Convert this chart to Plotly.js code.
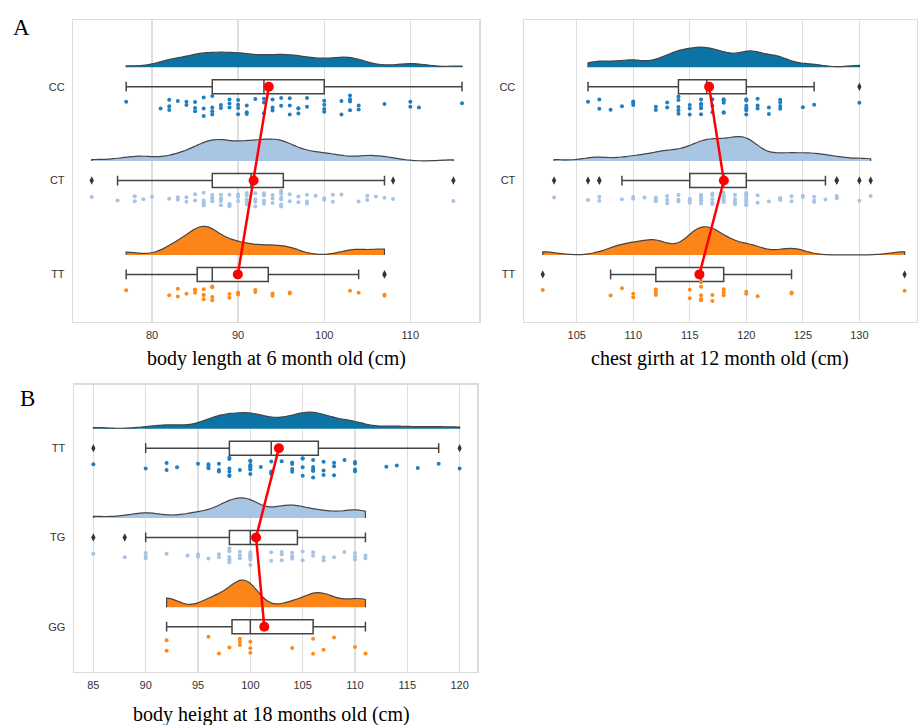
<!DOCTYPE html>
<html><head><meta charset="utf-8">
<script src="https://cdn.plot.ly/plotly-3.0.1.min.js"></script>
<style>html,body{margin:0;padding:0;background:#fff;overflow:hidden}</style>
</head><body><div id="chart" style="width:921px;height:725px"></div>
<script>
// ---------------- data ----------------
const bodyLength6m_CC = [77,81,82,82,82,83,84,84,85,85,85,86,86,86,87,87,87,87,88,88,89,89,89,90,90,90,90,91,91,91,92,93,93,93,94,94,94,95,95,96,96,96,97,97,97,98,98,100,100,100,100,102,102,103,103,103,103,104,104,107,110,110,111,116];
const bodyLength6m_CT = [73,76,78,78,79,80,82,83,83,84,84,85,85,86,86,86,86,86,87,87,87,87,87,88,88,88,88,88,89,89,89,89,90,90,90,91,91,91,91,91,92,92,92,92,93,93,93,93,93,94,94,94,95,95,95,95,95,95,95,95,96,96,97,97,98,98,98,99,100,100,101,101,102,104,105,105,106,107,108,115];
const bodyLength6m_TT = [77,82,83,83,84,85,85,85,86,86,86,86,87,87,87,87,89,89,90,90,92,92,94,94,96,96,103,104,107,107];

const chestGirth12m_CC = [106,107,107,108,109,110,110,110,112,112,113,113,114,114,114,114,114,115,115,115,116,116,116,116,116,116,117,117,117,118,118,118,118,118,120,120,120,120,120,120,121,121,121,122,122,123,123,123,123,125,126,130];
const chestGirth12m_CT = [103,106,107,107,109,110,110,111,112,112,112,113,113,113,114,114,114,115,115,115,116,116,116,116,116,116,116,117,117,117,117,117,117,118,118,118,118,118,118,119,119,119,119,119,120,120,120,120,120,120,120,120,120,120,120,121,121,122,123,123,123,124,124,125,125,126,126,126,127,128,128,130,131];
const chestGirth12m_TT = [102,108,109,110,110,112,112,112,112,115,115,116,116,116,116,116,117,117,118,118,118,120,120,121,124,124,134];

const bodyHeight18m_TT = [85,90,92,92,93,95,96,96,96,97,97,97,98,98,98,98,98,98,99,100,100,100,100,100,100,100,100,101,102,102,102,102,103,104,104,104,104,105,105,105,105,106,106,106,106,106,106,107,107,107,108,108,108,109,110,110,110,110,113,114,116,118,120];
const bodyHeight18m_TG = [85,88,90,90,90,92,94,95,95,96,97,97,98,98,98,98,98,98,99,99,99,100,100,100,100,100,100,100,100,102,102,103,103,103,104,104,104,104,105,105,106,106,107,107,108,109,110,110,110,111,111];
const bodyHeight18m_GG = [92,92,96,97,98,99,99,99,100,100,100,104,106,106,107,108,110,111];

const genotypesA = ['CC','CT','TT'];
const genotypesB = ['TT','TG','GG'];
const ticksLength = [80,90,100,110];
const ticksGirth = [105,110,115,120,125,130,135];
const ticksHeight = [85,90,95,100,105,110,115,120];
const titleLength = 'body length at 6 month old (cm)';
const titleGirth = 'chest girth at 12 month old (cm)';
const titleHeight = 'body height at 18 months old (cm)';

// ---------------- layout / style ----------------
const W = 921, H = 725;
const cloudFill = ['#0b74a5', '#a8c6e3', '#fc8419'];
const dotColor  = ['#1f7fc0', '#a6c4e6', '#ff8a1c'];
const panels = [
  {ax:'', groups:[bodyLength6m_CC, bodyLength6m_CT, bodyLength6m_TT], names:genotypesA, ticks:ticksLength,
   px:[73.3,479.3], py:[20,321.7], xr:[70.86,118.01], yr:[-0.504,2.711], cloudH:[15,22,28.5]},
  {ax:'2', groups:[chestGirth12m_CC, chestGirth12m_CT, chestGirth12m_TT], names:genotypesA, ticks:ticksGirth,
   px:[524,916.7], py:[20,321.7], xr:[100.34,135.07], yr:[-0.504,2.711], cloudH:[20,24.5,28]},
  {ax:'3', groups:[bodyHeight18m_TT, bodyHeight18m_TG, bodyHeight18m_GG], names:genotypesB, ticks:ticksHeight,
   px:[74,477.3], py:[384.7,671.7], xr:[83.15,121.69], yr:[-0.504,2.711], cloudH:[16.5,20,27]}
];

function mean(a){return a.reduce((s,v)=>s+v,0)/a.length;}
function sd(a){const m=mean(a);return Math.sqrt(a.reduce((s,v)=>s+(v-m)*(v-m),0)/(a.length-1));}
function pct(a,p){const s=[...a].sort((x,y)=>x-y);const h=(s.length-1)*p;const lo=Math.floor(h);const hi=Math.ceil(h);return s[lo]+(s[hi]-s[lo])*(h-lo);}
function boxStats(a){
  const q1=pct(a,0.25), md=pct(a,0.5), q3=pct(a,0.75), iqr=q3-q1;
  const lf=q1-1.5*iqr, uf=q3+1.5*iqr;
  const inside=a.filter(v=>v>=lf&&v<=uf);
  return {q1, md, q3, lo:Math.min(...inside), hi:Math.max(...inside), out:a.filter(v=>v<lf||v>uf)};
}

const traces = [];
const layout = {
  width: W, height: H, margin:{l:0,r:0,t:0,b:0}, paper_bgcolor:'#fff', plot_bgcolor:'#fff',
  showlegend:false, boxmode:'overlay', violinmode:'overlay', annotations:[]
};

panels.forEach((p) => {
  const xa = 'x'+p.ax, ya = 'y'+p.ax;
  const ppu = (p.py[1]-p.py[0])/(p.yr[1]-p.yr[0]);
  const means = [], poss = [];
  p.groups.forEach((d, i) => {
    const pos = 2 - i;
    poss.push(pos); means.push(mean(d));
    const st = boxStats(d);
    traces.push({type:'violin', orientation:'h', x:d, y0: pos + 19.5/ppu, side:'positive',
      width: 2*p.cloudH[i]/ppu, scalemode:'width', spanmode:'hard', bandwidth: 0.2*sd(d),
      fillcolor: cloudFill[i], line:{color:'#454545', width:1.2}, points:false,
      box:{visible:false}, meanline:{visible:false}, hoverinfo:'skip', xaxis:xa, yaxis:ya});
    traces.push({type:'box', orientation:'h', y:[pos], q1:[st.q1], median:[st.md], q3:[st.q3],
      lowerfence:[st.lo], upperfence:[st.hi], width:14/ppu, whiskerwidth:0.7, boxpoints:false,
      line:{color:'#444', width:1.5}, fillcolor:'#ffffff', hoverinfo:'skip', xaxis:xa, yaxis:ya});
    if (st.out.length) traces.push({type:'scatter', mode:'markers', x:st.out, y:st.out.map(()=>pos),
      marker:{symbol:'diamond-tall', size:6, color:'#333', line:{width:0}}, hoverinfo:'skip', xaxis:xa, yaxis:ya});
    traces.push({type:'box', orientation:'h', x:d, y0: pos - 18/ppu, width:23/ppu,
      boxpoints:'all', jitter:1, pointpos:0,
      marker:{size:4, color:dotColor[i], line:{width:0}},
      line:{width:0, color:'rgba(0,0,0,0)'}, fillcolor:'rgba(0,0,0,0)', hoverinfo:'skip', xaxis:xa, yaxis:ya});
  });
  traces.push({type:'scatter', mode:'lines+markers', x:means, y:poss,
    line:{color:'#ff0000', width:2.5}, marker:{color:'#ff0000', size:10}, hoverinfo:'skip', xaxis:xa, yaxis:ya});

  layout['xaxis'+p.ax] = {domain:[p.px[0]/W, p.px[1]/W], range:p.xr, anchor:ya, tickvals:p.ticks,
    showgrid:true, gridcolor:'#dedede', gridwidth:1.3, zeroline:false, showline:true, mirror:true,
    linecolor:'#dcdcdc', linewidth:1.5, ticks:'outside', ticklen:3, tickcolor:'rgba(0,0,0,0)',
    tickfont:{family:'Liberation Sans, Arial, sans-serif', size:11, color:'#333'}, fixedrange:true};
  layout['yaxis'+p.ax] = {domain:[1-p.py[1]/H, 1-p.py[0]/H], range:p.yr, anchor:xa, tickvals:[2,1,0],
    ticktext:p.names, showgrid:false, zeroline:false, showline:true, mirror:true,
    linecolor:'#dcdcdc', linewidth:1.5, ticks:'outside', ticklen:5, tickcolor:'rgba(0,0,0,0)',
    tickfont:{family:'Liberation Sans, Arial, sans-serif', size:11, color:'#333'}, fixedrange:true};
});

const serif = 'Liberation Serif, Times New Roman, serif';
[[titleLength, 276.5, 358], [titleGirth, 720.3, 358], [titleHeight, 271, 714.5]].forEach(t => {
  layout.annotations.push({text:t[0], x:t[1]/W, y:1-t[2]/H, xref:'paper', yref:'paper',
    xanchor:'center', yanchor:'middle', showarrow:false, font:{family:serif, size:20, color:'#000'}});
});
[['A', 21, 28], ['B', 27, 398]].forEach(t => {
  layout.annotations.push({text:t[0], x:t[1]/W, y:1-t[2]/H, xref:'paper', yref:'paper',
    xanchor:'center', yanchor:'middle', showarrow:false, font:{family:serif, size:23, color:'#000'}});
});

Plotly.newPlot('chart', traces, layout, {staticPlot:true, displayModeBar:false});
</script></body></html>
